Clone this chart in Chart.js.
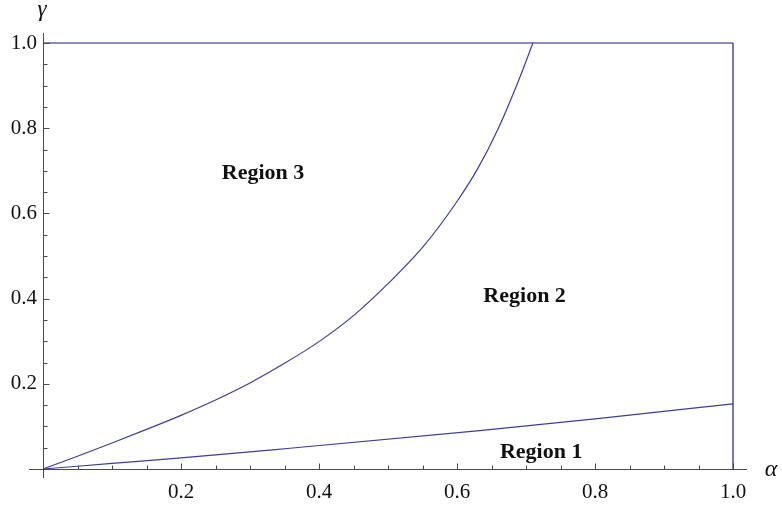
<!DOCTYPE html>
<html>
<head>
<meta charset="utf-8">
<title>Regions in the alpha-gamma plane</title>
<script src="https://cdn.jsdelivr.net/npm/chart.js@4.4.1/dist/chart.umd.min.js"></script>
<style>
  html, body { margin: 0; padding: 0; background: #fff; }
  #plot { display: block; }
</style>
</head>
<body>
<canvas id="plot" width="782" height="505"></canvas>
<script>
// Grenze zwischen Region 2 und Region 3 (Kurve)
const curveAlpha = [0, 0.05, 0.1, 0.15, 0.2, 0.25, 0.3, 0.35, 0.4, 0.45, 0.5, 0.55, 0.6, 0.63, 0.66, 0.69, 0.71];
const curveGamma = [0, 0.03, 0.061, 0.093, 0.126, 0.162, 0.202, 0.248, 0.299, 0.36, 0.435, 0.52, 0.628, 0.705, 0.8, 0.915, 1.0];

// Grenze zwischen Region 1 und Region 2 (fast gerade)
const lowerAlpha = [0, 0.1, 0.2, 0.333, 0.633, 0.807, 1.0];
const lowerGamma = [0, 0.013, 0.026, 0.045, 0.09, 0.119, 0.153];

// Rahmenlinien oben (gamma = 1) und rechts (alpha = 1)
const topAlpha = [0, 1];
const topGamma = [1, 1];
const rightAlpha = [1, 1];
const rightGamma = [0, 1];

// Achsenbeschriftung
const xTickValues = [0.2, 0.4, 0.6, 0.8, 1.0];
const xTickLabels = ['0.2', '0.4', '0.6', '0.8', '1.0'];
const yTickValues = [0.2, 0.4, 0.6, 0.8, 1.0];
const yTickLabels = ['0.2', '0.4', '0.6', '0.8', '1.0'];
const minorTickValues = [0.05, 0.1, 0.15, 0.25, 0.3, 0.35, 0.45, 0.5, 0.55, 0.65, 0.7, 0.75, 0.85, 0.9, 0.95];

// Texte in den Regionen (Datenkoordinaten)
const regionNames = ['Region 1', 'Region 2', 'Region 3'];
const regionAlpha = [0.722, 0.698, 0.319];
const regionGamma = [0.04, 0.405, 0.695];

const lineColor = '#3d3d99';
const axisColor = '#4a4a4a';
const serif = '"Liberation Serif", "Times New Roman", serif';

const toPoints = (xs, ys) => xs.map((v, i) => ({ x: v, y: ys[i] }));

// Achsen im Mathematica-Stil: durch den Ursprung, Ticks nach innen
const axesPlugin = {
    id: 'mmaAxes',
    beforeDatasetsDraw(chart) {
        const { ctx, scales: { x, y } } = chart;
        const x0 = Math.round(x.getPixelForValue(0)) + 0.5;
        const y0 = Math.round(y.getPixelForValue(0)) + 0.5;
        ctx.save();
        ctx.strokeStyle = axisColor;
        ctx.lineWidth = 1;
        ctx.beginPath();
        ctx.moveTo(x.left - 14, y0);
        ctx.lineTo(x.right + 14, y0);
        ctx.moveTo(x0, y.top - 10);
        ctx.lineTo(x0, y.bottom + 9);

        xTickValues.forEach(v => {
            const px = Math.round(x.getPixelForValue(v)) + 0.5;
            ctx.moveTo(px, y0);
            ctx.lineTo(px, y0 - 6);
        });
        yTickValues.forEach(v => {
            const py = Math.round(y.getPixelForValue(v)) + 0.5;
            ctx.moveTo(x0, py);
            ctx.lineTo(x0 + 6, py);
        });
        minorTickValues.forEach(v => {
            const px = Math.round(x.getPixelForValue(v)) + 0.5;
            ctx.moveTo(px, y0);
            ctx.lineTo(px, y0 - 4);
            const py = Math.round(y.getPixelForValue(v)) + 0.5;
            ctx.moveTo(x0, py);
            ctx.lineTo(x0 + 4, py);
        });
        ctx.stroke();
        ctx.restore();
    },
    afterDatasetsDraw(chart) {
        const { ctx, scales: { x, y } } = chart;
        ctx.save();
        ctx.fillStyle = '#111';

        // Achsennamen
        ctx.font = 'italic 24px ' + serif;
        ctx.textAlign = 'center';
        ctx.textBaseline = 'alphabetic';
        ctx.fillText('\u03b1', x.right + 38, y.getPixelForValue(0) + 7);
        ctx.font = 'italic 23px ' + serif;
        ctx.fillText('\u03b3', x.getPixelForValue(0) - 1, y.top - 27);

        // Regionen
        ctx.font = 'bold 22px ' + serif;
        ctx.textBaseline = 'middle';
        regionNames.forEach((name, i) => {
            ctx.fillText(name, x.getPixelForValue(regionAlpha[i]), y.getPixelForValue(regionGamma[i]));
        });
        ctx.restore();
    }
};

const lineDataset = (xs, ys, extra) => Object.assign({
    data: toPoints(xs, ys),
    showLine: true,
    borderColor: lineColor,
    borderWidth: 1.2,
    pointRadius: 0,
    fill: false,
    clip: false
}, extra);

new Chart(document.getElementById('plot'), {
    type: 'scatter',
    data: {
        datasets: [
            lineDataset(curveAlpha, curveGamma, { cubicInterpolationMode: 'monotone' }),
            lineDataset(lowerAlpha, lowerGamma, { cubicInterpolationMode: 'monotone' }),
            lineDataset(topAlpha, topGamma, { borderColor: 'rgba(61, 61, 153, 0.6)', borderWidth: 2 }),
            lineDataset(rightAlpha, rightGamma, { borderWidth: 1.4 })
        ]
    },
    options: {
        responsive: false,
        animation: false,
        devicePixelRatio: 1,
        layout: { padding: { top: 43, right: 49, bottom: 0, left: 0 } },
        plugins: {
            legend: { display: false },
            tooltip: { enabled: false }
        },
        scales: {
            x: {
                type: 'linear',
                position: 'bottom',
                min: 0,
                max: 1,
                grid: { display: false, drawTicks: false },
                border: { display: false },
                afterFit: s => { s.height = 36; },
                afterBuildTicks: s => { s.ticks = xTickValues.map(v => ({ value: v })); },
                ticks: {
                    autoSkip: false,
                    maxRotation: 0,
                    padding: 11,
                    color: '#111',
                    font: { family: serif, size: 21 },
                    callback: (value, index) => xTickLabels[index]
                }
            },
            y: {
                type: 'linear',
                position: 'left',
                min: 0,
                max: 1,
                grid: { display: false, drawTicks: false },
                border: { display: false },
                afterFit: s => { s.width = 43; },
                afterBuildTicks: s => { s.ticks = yTickValues.map(v => ({ value: v })); },
                ticks: {
                    autoSkip: false,
                    padding: 6,
                    color: '#111',
                    font: { family: serif, size: 21 },
                    callback: (value, index) => yTickLabels[index]
                }
            }
        }
    },
    plugins: [axesPlugin]
});
</script>
</body>
</html>
